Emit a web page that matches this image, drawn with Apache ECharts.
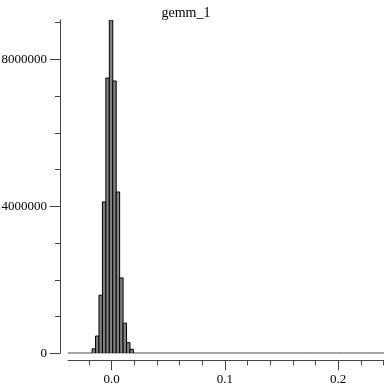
<!DOCTYPE html>
<html>
<head>
<meta charset="utf-8">
<script src="https://cdn.jsdelivr.net/npm/echarts@6/dist/echarts.min.js"></script>
<style>html,body{margin:0;padding:0;background:#fff}#c{width:384px;height:384px}</style>
</head>
<body>
<div id="c"></div>
<script>
// histogram definition
const titleText = "gemm_1";
const binStart = -0.0386;
const binWidth = 0.00304;
const counts = [
  0, 0, 0, 0, 0, 0, 0, 120000, 470000, 1580000,
  4120000, 7490000, 9070000, 7410000, 4390000, 2050000, 820000, 290000, 110000, 0,
  0, 0, 0, 0, 0, 0, 0, 0, 0, 0,
  0, 0, 0, 0, 0, 0, 0, 0, 0, 0,
  0, 0, 0, 0, 0, 0, 0, 0, 0, 0,
  0, 0, 0, 0, 0, 0, 0, 0, 0, 0,
  0, 0, 0, 0, 0, 0, 0, 0, 0, 0,
  0, 0, 0, 0, 0, 0, 0, 0, 0, 0,
  0, 0, 0, 0, 0, 0, 0, 0, 0, 0,
  0, 0, 0, 0, 0, 0, 0, 0, 0, 0
];
const xMajorTicks = [0, 0.1, 0.2];
const xMinorTicks = [-0.02, 0.02, 0.04, 0.06, 0.08, 0.12, 0.14, 0.16, 0.18, 0.22, 0.24];
const yMajorTicks = [0, 4000000, 8000000];
const yMinorTicks = [1000000, 2000000, 3000000, 5000000, 6000000, 7000000, 9000000];
const yMax = 9070000;
const xViewMax = 0.2404; // right edge of the visible window

const xMin = binStart;
const bins = counts.map((c, i) => [binStart + binWidth * i, binStart + binWidth * (i + 1), c]);

const font = '"Liberation Serif", "DejaVu Serif", serif';
const chart = echarts.init(document.getElementById('c'), null, {renderer: 'canvas'});
const axisCol = '#444';
chart.setOption({
  animation: false,
  title: {
    text: titleText, left: 181, top: 1, textAlign: 'center',
    textStyle: {fontFamily: font, fontSize: 14, fontWeight: 'normal', color: '#000'}
  },
  grid: {left: 68, top: 20, right: 0, bottom: 30.7, containLabel: false, outerBoundsMode: 'none'},
  xAxis: [
    {
      type: 'value', min: xMin, max: xViewMax, position: 'bottom', offset: 7,
      axisLine: {show: true, onZero: false, lineStyle: {color: axisCol, width: 1}},
      axisTick: {show: true, length: 10, customValues: xMajorTicks, lineStyle: {color: axisCol}},
      axisLabel: {show: true, customValues: xMajorTicks, margin: 13, fontFamily: font, fontSize: 13, color: '#000',
        formatter: v => v.toFixed(1)},
      splitLine: {show: false}
    },
    {
      type: 'value', min: xMin, max: xViewMax, position: 'bottom', offset: 7,
      axisLine: {show: false, onZero: false},
      axisTick: {show: true, length: 5, customValues: xMinorTicks, lineStyle: {color: axisCol}},
      axisLabel: {show: false},
      splitLine: {show: false}
    }
  ],
  yAxis: [
    {
      type: 'value', min: 0, max: yMax, position: 'left', offset: 8,
      axisLine: {show: true, onZero: false, lineStyle: {color: axisCol, width: 1}},
      axisTick: {show: true, length: 10, customValues: yMajorTicks, lineStyle: {color: axisCol}},
      axisLabel: {show: true, customValues: yMajorTicks, margin: 13, fontFamily: font, fontSize: 13, color: '#000',
        formatter: v => String(v)},
      splitLine: {show: false}
    },
    {
      type: 'value', min: 0, max: yMax, position: 'left', offset: 8,
      axisLine: {show: false, onZero: false},
      axisTick: {show: true, length: 5, customValues: yMinorTicks, lineStyle: {color: axisCol}},
      axisLabel: {show: false},
      splitLine: {show: false}
    }
  ],
  series: [{
    type: 'custom',
    xAxisIndex: 0, yAxisIndex: 0,
    clip: true,
    data: bins,
    encode: {x: [0, 1], y: 2},
    renderItem: function (params, api) {
      const p0 = api.coord([api.value(0), 0]);
      const p1 = api.coord([api.value(1), api.value(2)]);
      return {
        type: 'rect',
        shape: {x: p0[0], y: p1[1], width: p1[0] - p0[0], height: p0[1] - p1[1]},
        style: {fill: '#808080', stroke: '#000', lineWidth: 1}
      };
    }
  }]
});
</script>
</body>
</html>
